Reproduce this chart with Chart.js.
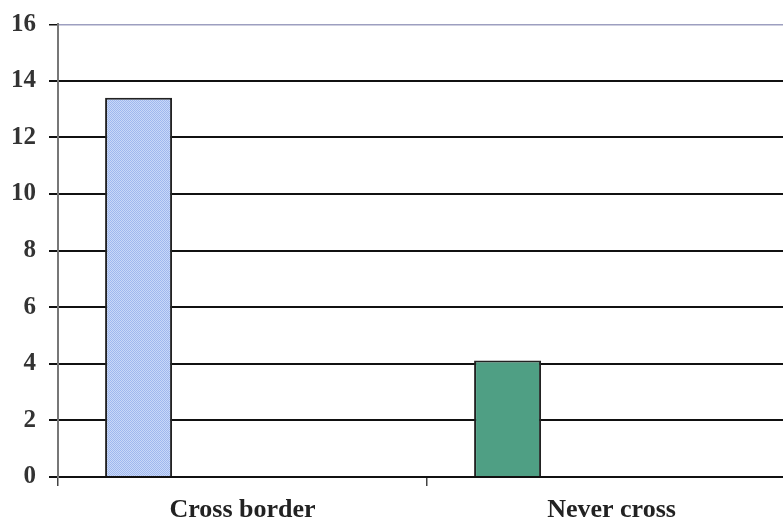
<!DOCTYPE html>
<html>
<head>
<meta charset="utf-8">
<script src="https://cdn.jsdelivr.net/npm/chart.js@4"></script>
<style>
  html, body { margin: 0; padding: 0; background: #fff; overflow: hidden; }
  #wrap { width: 800px; height: 522px; }
</style>
</head>
<body>
<div id="wrap"><canvas id="bar-chart"></canvas></div>
<script>
// data
const categories = ["Cross border", "Never cross"];
const values = [13.4, 4.12];
const yTicks = [0, 2, 4, 6, 8, 10, 12, 14, 16];
const emptySlots = 3; // the original leaves room for 3 more series per group

// blue dotted fill like the scanned print
function dotPattern(){
    const c = document.createElement("canvas");
    c.width = 2; c.height = 2;
    const g = c.getContext("2d");
    g.fillStyle = "#c9d8f8"; g.fillRect(0, 0, 2, 2);
    g.fillStyle = "#9fb8ee"; g.fillRect(0, 0, 1, 1); g.fillRect(1, 1, 1, 1);
    return g.createPattern(c, "repeat");
}

const datasets = [{
    label: "Series 1",
    data: values,
    backgroundColor: [dotPattern(), "#4f9f84"],
    borderColor: "#222",
    borderWidth: 2
}];
for (let i = 0; i < emptySlots; i++) {
    datasets.push({ label: "", data: categories.map(() => null) });
}

var ctx = document.getElementById("bar-chart").getContext("2d");
var myChart = new Chart(ctx, {
    type: "bar",
    data: { labels: categories, datasets: datasets },
    options: {
        responsive: true,
        maintainAspectRatio: false,
        animation: false,
        categoryPercentage: 0.751,
        barPercentage: 0.967,
        layout: { padding: { top: 11, right: 4, left: 0, bottom: 0 } },
        plugins: { legend: { display: false }, tooltip: { enabled: false } },
        scales: {
            x: {
                grid: { drawOnChartArea: false, tickLength: 9, color: "#444", lineWidth: 1.5 },
                border: { display: true, color: "#111", width: 2 },
                ticks: {
                    color: "#222", padding: 9,
                    font: { family: "Liberation Serif", weight: "bold", size: 26 }
                },
                afterFit: function(scale){ scale.height = 45; }
            },
            y: {
                min: 0, max: 16,
                afterBuildTicks: function(scale){ scale.ticks = yTicks.map(v => ({ value: v })); },
                grid: {
                    color: function(c){ return c.tick && c.tick.value === 16 ? "#9d9fc0" : "#111"; },
                    lineWidth: function(c){ return c.tick && c.tick.value === 16 ? 1.5 : 2; },
                    tickColor: "#111",
                    tickLength: 9
                },
                border: { display: true, color: "#777", width: 2 },
                ticks: {
                    color: "#333", padding: 13,
                    font: { family: "Liberation Serif", weight: "bold", size: 25, lineHeight: 0.9 }
                },
                afterFit: function(scale){ scale.width = 58; }
            }
        }
    }
});
</script>
</body>
</html>
